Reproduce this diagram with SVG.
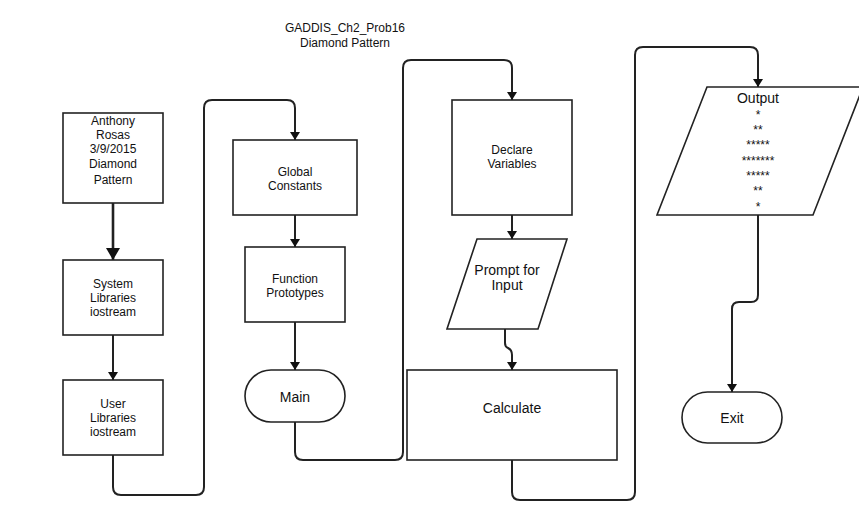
<svg xmlns="http://www.w3.org/2000/svg" width="859" height="524" viewBox="0 0 859 524">
<defs>
<style>
.n{fill:#fff;stroke:#222;stroke-width:1.6}
.c{fill:none;stroke:#222;stroke-width:2}
.t{font-family:"Liberation Sans",Arial,sans-serif;font-size:12px;fill:#111;text-anchor:middle}
.b{font-size:14px}
</style>
<marker id="a" markerUnits="userSpaceOnUse" markerWidth="12" markerHeight="12" refX="8" refY="5" orient="auto"><path d="M0,0 L8,5 L0,10 z" fill="#111"/></marker>
<marker id="A" markerUnits="userSpaceOnUse" markerWidth="16" markerHeight="16" refX="12" refY="7" orient="auto"><path d="M0,0 L12,7 L0,14 z" fill="#111"/></marker>
</defs>
<rect width="859" height="524" fill="#fff"/>
<g id="title">
<text class="t" x="345" y="32">GADDIS_Ch2_Prob16</text>
<text class="t" x="345" y="47">Diamond Pattern</text>
</g>
<g id="connectors">
<path class="c" style="stroke-width:2.6" d="M113,203 V260" marker-end="url(#A)"/>
<path class="c" d="M113,335 V380" marker-end="url(#a)"/>
<path class="c" d="M113,455 V487 Q113,495 121,495 H196 Q204,495 204,487 V108 Q204,100 212,100 H287 Q295,100 295,108 V140" marker-end="url(#a)"/>
<path class="c" d="M295,215 V247" marker-end="url(#a)"/>
<path class="c" d="M295,322 V370" marker-end="url(#a)"/>
<path class="c" d="M295,422 V452 Q295,460 303,460 H395 Q403,460 403,452 V68 Q403,60 411,60 H504 Q512,60 512,68 V100" marker-end="url(#a)"/>
<path class="c" d="M512,215 V239" marker-end="url(#a)"/>
<path class="c" d="M505,329 V343 Q505,347 508,348 Q512,350 512,355 V370" marker-end="url(#a)"/>
<path class="c" d="M512,460 V492 Q512,500 520,500 H627 Q635,500 635,492 V55 Q635,47 643,47 H750 Q758,47 758,55 V87" marker-end="url(#a)"/>
<path class="c" d="M758,215 V295 Q758,302 751,302 H739 Q732,302 732,309 V392" marker-end="url(#a)"/>
</g>
<g id="header">
<rect class="n" x="63" y="113" width="100" height="90"/>
<text class="t" x="113" y="125">Anthony</text>
<text class="t" x="113" y="139">Rosas</text>
<text class="t" x="113" y="153">3/9/2015</text>
<text class="t" x="113" y="168">Diamond</text>
<text class="t" x="113" y="184">Pattern</text>
</g>
<g id="system-libraries">
<rect class="n" x="63" y="260" width="100" height="75"/>
<text class="t" x="113" y="288">System</text>
<text class="t" x="113" y="302">Libraries</text>
<text class="t" x="113" y="316">iostream</text>
</g>
<g id="user-libraries">
<rect class="n" x="63" y="380" width="100" height="75"/>
<text class="t" x="113" y="408">User</text>
<text class="t" x="113" y="422">Libraries</text>
<text class="t" x="113" y="436">iostream</text>
</g>
<g id="global-constants">
<rect class="n" x="233" y="140" width="124" height="75"/>
<text class="t" x="295" y="176">Global</text>
<text class="t" x="295" y="190">Constants</text>
</g>
<g id="function-prototypes">
<rect class="n" x="245" y="247" width="100" height="75"/>
<text class="t" x="295" y="283">Function</text>
<text class="t" x="295" y="297">Prototypes</text>
</g>
<g id="main">
<rect class="n" x="245" y="370" width="100" height="52" rx="26" ry="26"/>
<text class="t b" x="295" y="402">Main</text>
</g>
<g id="declare-variables">
<rect class="n" x="452" y="100" width="120" height="115"/>
<text class="t" x="512" y="154">Declare</text>
<text class="t" x="512" y="168">Variables</text>
</g>
<g id="prompt">
<polygon class="n" points="477,239 567,239 538,329 447,329"/>
<text class="t b" x="507" y="275">Prompt for</text>
<text class="t b" x="507" y="290">Input</text>
</g>
<g id="calculate">
<rect class="n" x="407" y="370" width="210" height="90"/>
<text class="t b" x="512" y="413">Calculate</text>
</g>
<g id="output">
<polygon class="n" points="707,87 863,87 813,215 657,215"/>
<text class="t b" x="758" y="103">Output</text>
<text class="t" x="758" y="119">*</text>
<text class="t" x="758" y="134">**</text>
<text class="t" x="758" y="149">*****</text>
<text class="t" x="758" y="165">*******</text>
<text class="t" x="758" y="180">*****</text>
<text class="t" x="758" y="195">**</text>
<text class="t" x="758" y="211">*</text>
</g>
<g id="exit">
<rect class="n" x="682" y="392" width="100" height="51" rx="25.5" ry="25.5"/>
<text class="t b" x="732" y="423">Exit</text>
</g>
</svg>
